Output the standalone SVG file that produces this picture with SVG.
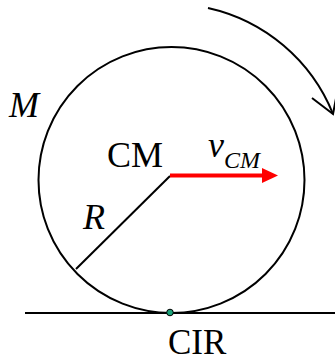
<svg xmlns="http://www.w3.org/2000/svg" width="335" height="362" viewBox="0 0 335 362">
<style>
.ln{fill:none;stroke:#000;stroke-width:2}
.t{font-family:"Liberation Serif","Times New Roman",serif;font-size:36px;fill:#000}
.i{font-style:italic}
</style>
<rect width="335" height="362" fill="#fff"/>
<g id="ground"><line class="ln" x1="25" y1="313" x2="335" y2="313"/></g>
<g id="wheel">
<circle class="ln" cx="171.5" cy="180" r="133"/>
<text class="t i" x="9" y="117">M</text>
</g>
<g id="connectors">
<path class="ln" d="M208 8 A176 176 0 0 1 333 114"/>
<path class="ln" d="M312 98 L333 114 L338 88"/>
<line class="ln" x1="170" y1="176" x2="76" y2="269"/>
<line x1="170" y1="175.5" x2="264" y2="175.5" stroke="#f00" stroke-width="4"/>
<polygon points="262,168 278,175.5 262,183" fill="#f00"/>
</g>
<g id="cm">
<text class="t" x="107" y="167">CM</text>
<text class="t i" x="208" y="157">v</text>
<text class="t i" x="224" y="168" style="font-size:24px">CM</text>
</g>
<g id="radius"><text class="t i" x="83" y="229">R</text></g>
<g id="cir">
<circle cx="170" cy="312.5" r="3.3" fill="#1aa37a" stroke="#000" stroke-width="1"/>
<text class="t" x="168" y="354" style="font-size:35px">CIR</text>
</g>
</svg>
